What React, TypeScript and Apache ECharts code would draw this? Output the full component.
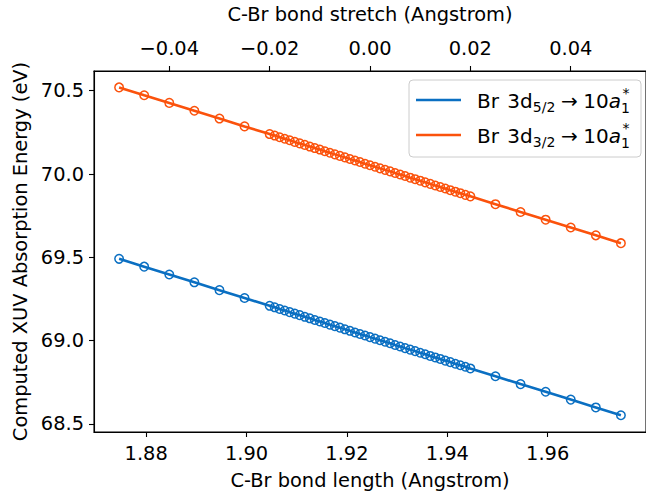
import React, { useEffect, useRef } from "react";
import * as echarts from "echarts";

// Equilibrium C-Br bond length (Angstrom); bottom axis = EQ + stretch
const EQ_LENGTH = 1.9246;

const STRETCH = [
  -0.05, -0.045, -0.04, -0.035, -0.03, -0.025,
  -0.02, -0.019, -0.018, -0.017, -0.016, -0.015, -0.014, -0.013, -0.012, -0.011,
  -0.01, -0.009, -0.008, -0.007, -0.006, -0.005, -0.004, -0.003, -0.002, -0.001,
  0.0, 0.001, 0.002, 0.003, 0.004, 0.005, 0.006, 0.007, 0.008, 0.009,
  0.01, 0.011, 0.012, 0.013, 0.014, 0.015, 0.016, 0.017, 0.018, 0.019, 0.02,
  0.025, 0.03, 0.035, 0.04, 0.045, 0.05,
];

const E_3D52 = [
  69.491, 69.444, 69.397, 69.35, 69.303, 69.256,
  69.209, 69.2, 69.19, 69.181, 69.171, 69.162, 69.153, 69.143, 69.134, 69.124,
  69.115, 69.106, 69.096, 69.087, 69.078, 69.068, 69.059, 69.049, 69.04, 69.031,
  69.021, 69.012, 69.002, 68.993, 68.984, 68.974, 68.965, 68.955, 68.946, 68.937,
  68.927, 68.918, 68.908, 68.899, 68.89, 68.88, 68.871, 68.861, 68.852, 68.843, 68.833,
  68.786, 68.739, 68.693, 68.646, 68.599, 68.552,
];

const E_3D32 = [
  70.52, 70.473, 70.427, 70.38, 70.333, 70.286,
  70.24, 70.231, 70.221, 70.212, 70.203, 70.193, 70.184, 70.175, 70.165, 70.156,
  70.147, 70.137, 70.128, 70.118, 70.109, 70.1, 70.09, 70.081, 70.072, 70.062,
  70.053, 70.044, 70.034, 70.025, 70.016, 70.006, 69.997, 69.988, 69.978, 69.969,
  69.96, 69.95, 69.941, 69.931, 69.922, 69.913, 69.903, 69.894, 69.885, 69.875, 69.866,
  69.819, 69.772, 69.726, 69.679, 69.632, 69.585,
];

const LENGTH_TICKS = [1.88, 1.9, 1.92, 1.94, 1.96];
const STRETCH_TICKS = [-0.04, -0.02, 0, 0.02, 0.04];
const ENERGY_TICKS = [68.5, 69.0, 69.5, 70.0, 70.5];

const SERIES_NAMES = ["Br 3d5/2 → 10a1*", "Br 3d3/2 → 10a1*"];
const SUBSCRIPTS = ["5/2", "3/2"];
const COLORS = ["#0a6fc2", "#fb520c"];

const FONT = "DejaVu Sans";
const FS = 19.4;
const LFS = 20;

export default function App() {
  const ref = useRef<HTMLDivElement>(null);

  useEffect(() => {
    if (!ref.current) return;
    const chart = echarts.init(ref.current, null, { renderer: "svg" });

    const canvas = document.createElement("canvas");
    const ctx = canvas.getContext("2d")!;
    const mw = (t: string, size: number, italic = false) => {
      ctx.font = `${italic ? "italic " : ""}${size}px "${FONT}"`;
      return ctx.measureText(t).width;
    };

    const txt = (t: string, x: number, base: number, size: number, italic = false, lh?: number) => ({
      type: "text",
      x,
      y: base - 0.35 * size,
      z: 100,
      style: {
        text: t,
        fontSize: size,
        fontFamily: FONT,
        fontStyle: italic ? "italic" : "normal",
        fill: "#000",
        align: "left",
        verticalAlign: "middle",
        lineHeight: lh ?? Math.round(size * 1.2),
      },
    });

    const legendRow = (x0: number, base: number, sub: string) => {
      const els: any[] = [];
      const small = LFS * 0.7;
      let x = x0;
      els.push(txt("Br", x, base, LFS));
      x += mw("Br", LFS) + 0.42 * LFS;
      els.push(txt("3d", x, base, LFS));
      x += mw("3d", LFS);
      els.push(txt(sub, x, base + 0.2 * LFS, small));
      x += mw(sub, small) + 0.28 * LFS;
      els.push(txt("→", x, base, LFS));
      x += mw("→", LFS) + 0.28 * LFS;
      els.push(txt("10", x, base, LFS));
      x += mw("10", LFS);
      els.push(txt("a", x, base, LFS, true));
      x += mw("a", LFS, true);
      els.push(txt("1", x, base + 0.26 * LFS, small, false, 10));
      els.push(txt("*", x + 1.5, base - 0.5 * LFS, small, false, 10));
      return els;
    };

    const legendX = 409;
    const legendY = 80;
    const rows = [100, 135];
    const graphic: any[] = [
      {
        type: "rect",
        z: 90,
        shape: { x: legendX, y: legendY, width: 232, height: 77, r: 4 },
        style: { fill: "rgba(255,255,255,0.8)", stroke: "#cccccc", lineWidth: 1 },
      },
    ];
    rows.forEach((ry, i) => {
      graphic.push({
        type: "line",
        z: 95,
        shape: { x1: 416, y1: ry, x2: 461, y2: ry },
        style: { stroke: COLORS[i], lineWidth: 2.6 },
      });
      graphic.push(...legendRow(477, ry + 7.5, SUBSCRIPTS[i]));
    });

    const axisCommon = {
      axisLine: { show: true, onZero: false, lineStyle: { color: "#000", width: 1.1 } },
      axisTick: { show: true, length: 5, lineStyle: { color: "#000", width: 1.1 } },
      splitLine: { show: false },
      nameTextStyle: { fontSize: FS, fontFamily: FONT, color: "#000" },
    };

    const lengths = STRETCH.map((s) => EQ_LENGTH + s);

    chart.setOption({
      animation: false,
      backgroundColor: "#fff",
      grid: {
        left: 94,
        top: 69,
        width: 554,
        height: 370,
        show: true,
        borderColor: "#000",
        borderWidth: 1.1,
        backgroundColor: "transparent",
      },
      xAxis: [
        {
          type: "value",
          position: "bottom",
          min: 1.8696,
          max: 1.9796,
          name: "C-Br bond length (Angstrom)",
          nameLocation: "middle",
          nameGap: 39,
          ...axisCommon,
          axisTick: { ...axisCommon.axisTick, customValues: LENGTH_TICKS },
          axisLabel: {
            customValues: LENGTH_TICKS,
            margin: 12,
            fontSize: FS,
            fontFamily: FONT,
            color: "#000",
            formatter: (v: number) => v.toFixed(2),
          },
        },
        {
          type: "value",
          position: "top",
          min: 1.8696 - EQ_LENGTH,
          max: 1.9796 - EQ_LENGTH,
          name: "C-Br bond stretch (Angstrom)",
          nameLocation: "middle",
          nameGap: 47,
          ...axisCommon,
          axisTick: { ...axisCommon.axisTick, customValues: STRETCH_TICKS },
          axisLabel: {
            customValues: STRETCH_TICKS,
            margin: 13,
            fontSize: FS,
            fontFamily: FONT,
            color: "#000",
            formatter: (v: number) => {
              const s = Math.abs(v).toFixed(2);
              return v < -1e-9 ? "\u2212" + s : s;
            },
          },
        },
      ],
      yAxis: {
        type: "value",
        min: 68.4515,
        max: 70.6185,
        name: "Computed XUV Absorption Energy (eV)",
        nameLocation: "middle",
        nameGap: 62,
        ...axisCommon,
        axisTick: { ...axisCommon.axisTick, customValues: ENERGY_TICKS },
        axisLabel: {
          customValues: ENERGY_TICKS,
          margin: 10,
          fontSize: FS,
          fontFamily: FONT,
          color: "#000",
          formatter: (v: number) => v.toFixed(1),
        },
      },
      series: [E_3D52, E_3D32].map((vals, i) => ({
        type: "line",
        name: SERIES_NAMES[i],
        xAxisIndex: 0,
        data: lengths.map((x, j) => [x, vals[j]]),
        symbol: "circle",
        symbolSize: 8.5,
        showSymbol: true,
        lineStyle: { color: COLORS[i], width: 2.6 },
        itemStyle: { color: "rgba(0,0,0,0)", borderColor: COLORS[i], borderWidth: 1.5 },
        emphasis: { disabled: true },
      })),
      graphic,
    });

    return () => chart.dispose();
  }, []);

  return (
    <div
      ref={ref}
      style={{ position: "fixed", left: 0, top: 0, width: 646, height: 495 }}
    />
  );
}
